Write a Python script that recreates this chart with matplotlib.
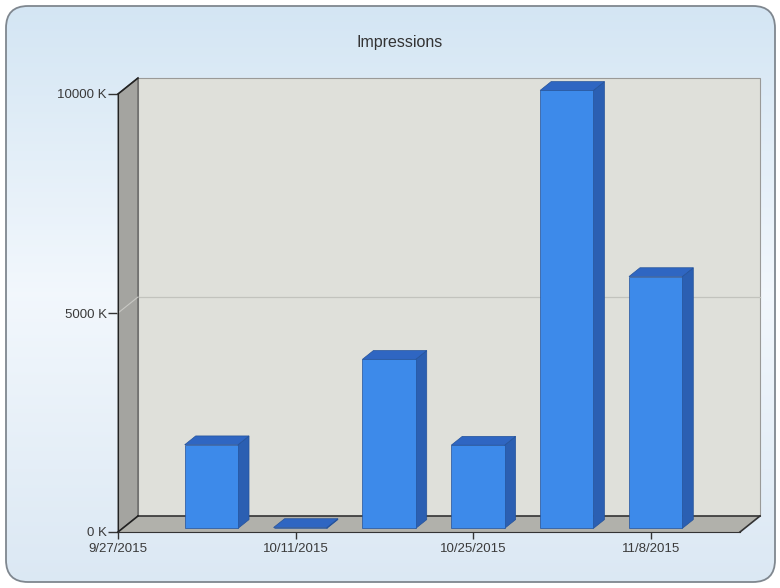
import numpy as np
import matplotlib
matplotlib.use('Agg')
import matplotlib.pyplot as plt
import matplotlib.dates as mdates
from matplotlib.patches import Polygon, FancyBboxPatch
from datetime import date

plt.rcParams['font.family'] = ['Liberation Sans', 'DejaVu Sans']

title = 'Impressions'
bar_dates = [date(2015, 10, 4), date(2015, 10, 11), date(2015, 10, 18),
             date(2015, 10, 25), date(2015, 11, 1), date(2015, 11, 8)]
impressions_k = [1910, 20, 3860, 1900, 10000, 5750]
x_start = date(2015, 9, 27)
x_end = date(2015, 11, 15)
tick_dates = [date(2015, 9, 27), date(2015, 10, 11), date(2015, 10, 25), date(2015, 11, 8)]
y_ticks = [0, 5000, 10000]

front_c = '#3d8aea'
side_c = '#2b5fb2'
top_c = '#2f66c2'
edge_c = '#24529a'

fig = plt.figure(figsize=(7.8, 5.88), dpi=100)

# background panel with rounded corners and soft gradient
bg = fig.add_axes([0, 0, 1, 1])
bg.set_xlim(0, 780)
bg.set_ylim(0, 588)
bg.axis('off')
box = FancyBboxPatch((6, 6), 769, 576, boxstyle='round,pad=0,rounding_size=22',
                     fc='none', ec='#7f878f', lw=1.3, zorder=3)
bg.add_patch(box)
top_rgb = np.array([0.83, 0.90, 0.955])
mid_rgb = np.array([0.95, 0.97, 0.99])
bot_rgb = np.array([0.86, 0.91, 0.955])
t = np.linspace(0, 1, 256)[:, None]
grad = np.where(t < 0.5, top_rgb + (mid_rgb - top_rgb) * (t / 0.5),
                mid_rgb + (bot_rgb - mid_rgb) * ((t - 0.5) / 0.5))
img = np.repeat(grad[:, None, :], 2, axis=1)
im = bg.imshow(img, extent=[6, 775, 6, 582], aspect='auto', origin='upper', zorder=1)
im.set_clip_path(box)

ax = fig.add_axes([118 / 780, 56 / 588, 622 / 780, 438 / 588])
ax.patch.set_visible(False)
x0, x1 = mdates.date2num(x_start), mdates.date2num(x_end)
ax.set_xlim(x0, x1)
ax.set_ylim(0, 10000)
for s in ['top', 'right']:
    ax.spines[s].set_visible(False)
ax.spines['left'].set_color('#222222')
ax.spines['bottom'].set_color('#333333')
ax.spines['left'].set_zorder(6)
ax.spines['bottom'].set_zorder(6)

# depth of the 3D box, converted from pixels to data units
fig.canvas.draw()
bb = ax.get_window_extent()
DX = 20 * (x1 - x0) / bb.width
DY = 16 * 10000 / bb.height


def off(x, y, k):
    return (x + k * DX, y + k * DY)


def poly(pts, **kw):
    p = Polygon(pts, closed=True, clip_on=False, **kw)
    ax.add_patch(p)
    return p


# back wall, left wall, floor
poly([off(x0, 0, 1), off(x1, 0, 1), off(x1, 10000, 1), off(x0, 10000, 1)],
     fc='#dfe0da', ec='#9a9a98', lw=0.8, zorder=1)
ax.plot([off(x0, 5000, 1)[0], off(x1, 5000, 1)[0]], [off(x0, 5000, 1)[1]] * 2,
        color='#c2c3bd', lw=0.9, clip_on=False, zorder=2)
poly([off(x0, 0, 0), off(x0, 10000, 0), off(x0, 10000, 1), off(x0, 0, 1)],
     fc='#a4a4a0', ec='#555555', lw=0.8, zorder=2)
ax.plot([x0, off(x0, 5000, 1)[0]], [5000, off(x0, 5000, 1)[1]],
        color='#c8c8c4', lw=0.8, clip_on=False, zorder=2)
poly([off(x0, 0, 0), off(x1, 0, 0), off(x1, 0, 1), off(x0, 0, 1)],
     fc='#b1b1ab', ec='none', zorder=2)
ax.plot([off(x0, 0, 1)[0], off(x1, 0, 1)[0]], [off(x0, 0, 1)[1]] * 2,
        color='#333333', lw=1.2, clip_on=False, zorder=3)
ax.plot([x1, off(x1, 0, 1)[0]], [0, off(x1, 0, 1)[1]],
        color='#333333', lw=1.2, clip_on=False, zorder=3)
ax.plot([x0, off(x0, 0, 1)[0]], [0, off(x0, 0, 1)[1]],
        color='#222222', lw=1.2, clip_on=False, zorder=6)
ax.plot([x0, off(x0, 10000, 1)[0]], [10000, off(x0, 10000, 1)[1]],
        color='#222222', lw=1.2, clip_on=False, zorder=6)

# bars: sit in the middle of the depth
bw = 0.6 * 7
kf, kb = 0.225, 0.775
for d, v in zip(bar_dates, impressions_k):
    xc = mdates.date2num(d)
    xl, xr = xc - bw / 2, xc + bw / 2
    poly([off(xr, 0, kf), off(xr, 0, kb), off(xr, v, kb), off(xr, v, kf)],
         fc=side_c, ec=edge_c, lw=0.5, zorder=4)
    poly([off(xl, v, kf), off(xr, v, kf), off(xr, v, kb), off(xl, v, kb)],
         fc=top_c, ec=edge_c, lw=0.5, zorder=4)
    poly([off(xl, 0, kf), off(xr, 0, kf), off(xr, v, kf), off(xl, v, kf)],
         fc=front_c, ec=edge_c, lw=0.5, zorder=5)

ax.set_xticks([mdates.date2num(d) for d in tick_dates])
ax.set_xticklabels([f'{d.month}/{d.day}/{d.year}' for d in tick_dates])
ax.set_yticks(y_ticks)
ax.set_yticklabels([f'{v} K' for v in y_ticks])
ax.tick_params(axis='y', length=7, width=1, color='#333333', labelsize=9.5,
               labelcolor='#3a3a3a', pad=1)
ax.tick_params(axis='x', length=5, width=1, color='#333333', labelsize=9.5,
               labelcolor='#3a3a3a', pad=3)

fig.text(400 / 780, 1 - 42 / 588, title, ha='center', va='center', fontsize=11.5,
         color='#333333')

fig.savefig('out.png', dpi=100)
